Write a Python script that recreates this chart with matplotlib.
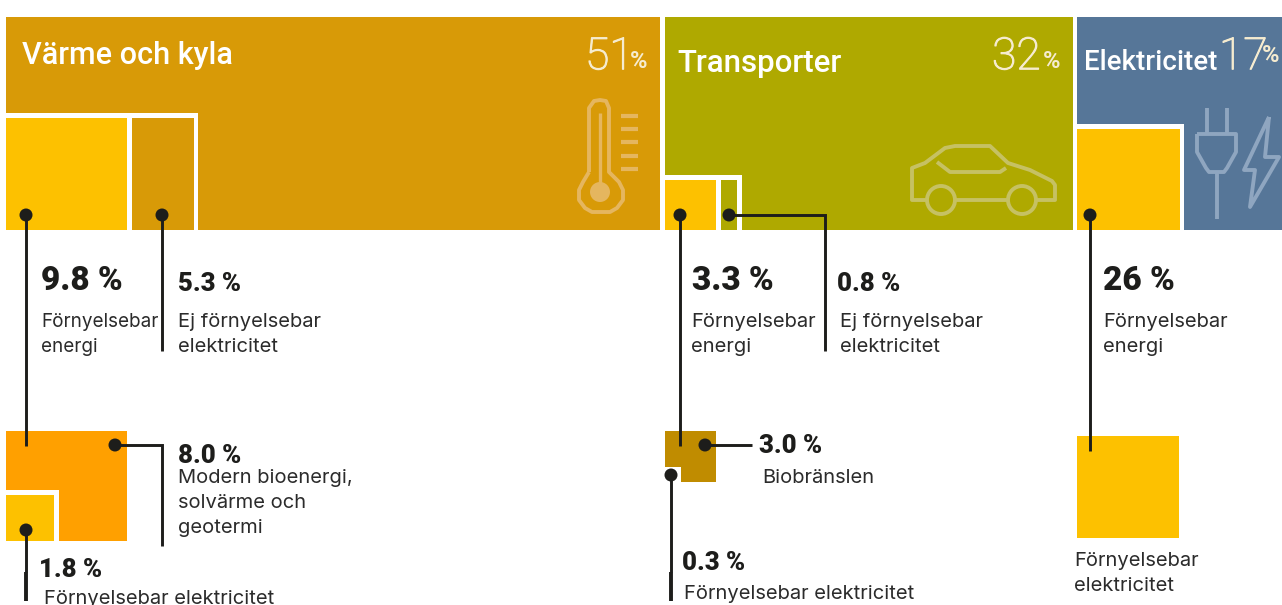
import matplotlib
matplotlib.use('Agg')
import matplotlib.pyplot as plt
import matplotlib.patheffects as pe
from matplotlib.patches import Rectangle, Circle

# sector shares, percent
sectors = ["Värme och kyla", "Transporter", "Elektricitet"]
shares = [51, 32, 17]
sector_colors = ["#d89a07", "#afa900", "#567698"]

# second level values
heat_vals = ["9.8 %", "5.3 %", "8.0 %", "1.8 %"]
transport_vals = ["3.3 %", "0.8 %", "3.0 %", "0.3 %"]
el_vals = ["26 %"]

YELLOW = "#fdc100"
ORANGE = "#ffa000"
BROWN = "#c08c00"
DARK = "#1d1d1b"
TEXT = "#2b2b2b"

TOP, BOTTOM = 17, 230
PX_PER_PCT = 12.82

fig = plt.figure(figsize=(12.82, 6.05), dpi=100)
ax = fig.add_axes([0, 0, 1, 1])
ax.set_xlim(0, 1282)
ax.set_ylim(605, 0)
ax.axis('off')


def box(x0, y0, x1, y1, color):
    ax.add_patch(Rectangle((x0, y0), x1 - x0, y1 - y0, fc=color, ec='none'))


def leader(pts, dot=True, lw=2.1):
    xs = [p[0] for p in pts]
    ys = [p[1] for p in pts]
    ax.plot(xs, ys, color=DARK, lw=lw, solid_capstyle='butt', solid_joinstyle='miter', zorder=5)
    if dot:
        ax.add_patch(Circle(pts[0], 6.5, fc=DARK, ec='none', zorder=6))


def value(x, y, s, size=18.5):
    ax.text(x, y, s, fontsize=size, family='Roboto', weight='black', color=DARK, va='center', ha='left')


def label(x, y, s, size=14.5):
    ax.text(x, y, s, fontsize=size, family='Inter', color=TEXT, va='top', ha='left', linespacing=1.5)


def icon(xs, ys, color, lw=2.8):
    ax.plot(xs, ys, color=color, lw=lw, solid_joinstyle='round', solid_capstyle='butt')


# sectors
starts = [6, 665, 1077]
ends = [660, 1073, 1282]
for i, name in enumerate(sectors):
    x1 = min(starts[i] + shares[i] * PX_PER_PCT, ends[i])
    box(starts[i], TOP, x1, BOTTOM, sector_colors[i])

# white cut-outs and the small boxes in them
box(6, 113, 198, BOTTOM, 'white')
box(6, 118, 127, BOTTOM, YELLOW)
box(132, 118, 194, BOTTOM, sector_colors[0])

box(665, 175, 742, BOTTOM, 'white')
box(665, 180, 716, BOTTOM, YELLOW)
box(721, 180, 737, BOTTOM, sector_colors[1])

box(1077, 124, 1184, BOTTOM, 'white')
box(1077, 129, 1180, BOTTOM, YELLOW)

# sector titles
title_pos = [(22, 56, 22), (677, 64, 22.5), (1084, 63, 20)]
for name, (x, y, fs) in zip(sectors, title_pos):
    ax.text(x, y, name, color='white', fontsize=fs, family='Roboto', weight='medium', va='center')

# big shares
share_pos = [(585, 57), (992, 57), (1219, 57)]
pct_pos = [(630, 61), (1043, 61), (1262, 56)]
for s, (x, y), (px, py) in zip(shares, share_pos, pct_pos):
    t = ax.text(x, y, str(s), color='#f6ecd0', fontsize=32, family='Roboto', weight='light', va='center')
    t.set_path_effects([pe.withStroke(linewidth=0.8, foreground='#f6ecd0')])
    ax.text(px, py, "%", color='#f6ecd0', fontsize=17, family='Roboto', weight='bold', va='center')

# thermometer
ICON1 = "#e5b65f"
icon([589, 589, 594, 600, 606, 609, 609, 619, 623, 623, 617, 610, 592, 585, 579, 579, 583, 589],
     [172, 108, 101, 100, 101, 108, 172, 182, 190, 200, 208, 212, 212, 208, 200, 190, 182, 172], ICON1)
icon([600, 600], [113, 190], ICON1, 2.4)
ax.add_patch(Circle((600, 192), 10, fc=ICON1, ec='none'))
for y in [116, 129, 142, 156, 169]:
    icon([621, 638], [y, y], ICON1, 3)

# car
ICON2 = "#c6c163"
icon([927, 912, 912, 925, 945, 955, 990, 1008, 1030, 1052, 1055, 1055, 1036],
     [200, 200, 168, 163, 148, 146, 146, 163, 170, 181, 185, 200, 200], ICON2)
icon([956, 1007], [200, 200], ICON2)
icon([937, 950, 1000, 1006], [162, 172, 172, 168], ICON2)
for cx in [941, 1022]:
    ax.add_patch(Circle((cx, 200), 14, fc='none', ec=ICON2, lw=2.8))

# plug and lightning
ICON3 = "#8fa6c0"
for x in [1207, 1227]:
    icon([x, x], [108, 134], ICON3)
icon([1197, 1236, 1236, 1227, 1224, 1209, 1206, 1197, 1197],
     [134, 134, 152, 168, 172, 172, 168, 152, 134], ICON3)
icon([1217, 1217], [172, 219], ICON3)
icon([1269, 1244, 1255, 1250, 1279, 1265, 1269], [117, 170, 170, 207, 157, 157, 117], ICON3)

# bottom boxes
box(6, 431, 127, 541, ORANGE)
box(6, 490, 59, 541, 'white')
box(6, 495, 54, 541, YELLOW)
box(665, 431, 716, 482, BROWN)
box(665, 467, 681, 482, 'white')
box(1077, 436, 1179, 538, YELLOW)

# leaders
leader([(26, 215), (26, 446)])
leader([(162, 215), (162, 351)])
leader([(115, 445), (162, 445), (162, 546)])
leader([(26, 530), (26, 572)])
leader([(26, 572), (26, 601)], dot=False, lw=2.8)
leader([(680, 215), (680, 446)])
leader([(729, 215), (825, 215), (825, 351)])
leader([(705, 445), (752, 445)])
leader([(671, 475), (671, 572)])
leader([(671, 572), (671, 601)], dot=False, lw=2.8)
leader([(1090, 215), (1090, 451)])

# values
value(41, 281, heat_vals[0], 24)
value(178, 284, heat_vals[1])
value(178, 456, heat_vals[2])
value(39, 570, heat_vals[3])
value(692, 281, transport_vals[0], 24)
value(837, 284, transport_vals[1])
value(759, 446, transport_vals[2])
value(682, 563, transport_vals[3])
value(1103, 281, el_vals[0], 24)

# labels
label(41, 313, "Förnyelsebar\nenergi", 13.6)
label(178, 313, "Ej förnyelsebar\nelektricitet")
label(178, 469, "Modern bioenergi,\nsolvärme och\ngeotermi")
label(44, 590, "Förnyelsebar elektricitet")
label(691, 313, "Förnyelsebar\nenergi")
label(840, 313, "Ej förnyelsebar\nelektricitet")
label(762, 469, "Biobränslen")
label(684, 585, "Förnyelsebar elektricitet")
label(1103, 313, "Förnyelsebar\nenergi")
label(1074, 552, "Förnyelsebar\nelektricitet")

fig.savefig('out.png', dpi=100)
